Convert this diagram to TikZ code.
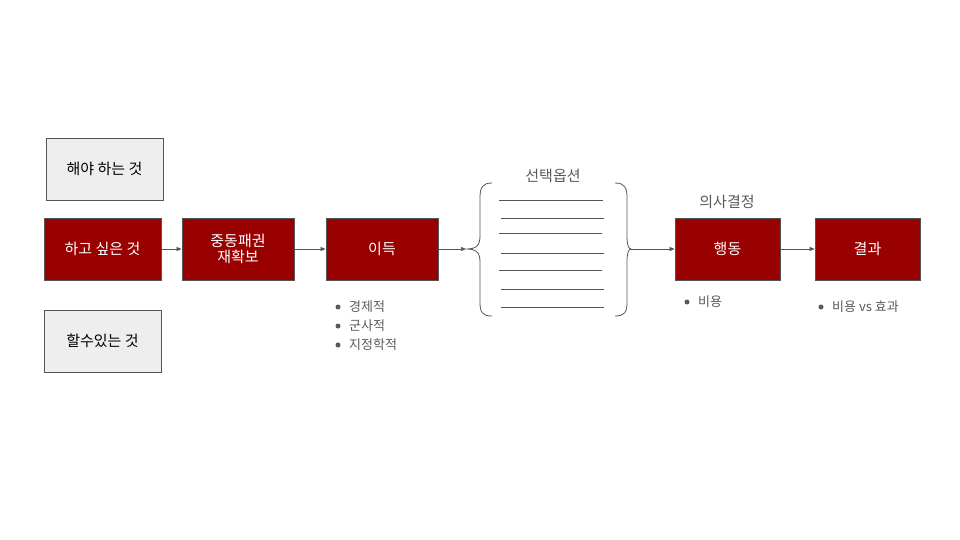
\documentclass[tikz,border=0pt]{standalone}
\usepackage{fontspec}
\setmainfont{Noto Sans CJK KR}
\usetikzlibrary{arrows.meta}
\definecolor{dred}{HTML}{990000}
\definecolor{lgray}{HTML}{EEEEEE}
\definecolor{bord}{HTML}{555555}
\definecolor{tgray}{HTML}{595959}
\begin{document}
\begin{tikzpicture}[x=1pt,y=-1pt,
  redbox/.style={draw=bord,fill=dred,text=white,font=\fontsize{15}{18}\selectfont,align=center,line width=0.8pt,inner sep=0pt},
  graybox/.style={draw=bord,fill=lgray,text=black,font=\fontsize{15}{18}\selectfont,align=center,line width=0.8pt,inner sep=0pt},
  conn/.style={draw=bord,line width=0.7pt,-{Triangle[length=5pt,width=4pt]}},
  bul/.style={text=tgray,font=\fontsize{13}{15}\selectfont,anchor=west,inner sep=0pt},
  dotb/.style={circle,fill=tgray,inner sep=0pt,minimum size=5pt},
  brace/.style={draw=bord,line width=0.8pt},
  optline/.style={draw=bord,line width=0.7pt}]
\useasboundingbox (0,0) rectangle (960,540);
\node[graybox,minimum width=117pt,minimum height=62pt] (must) at (104.5,169) {해야 하는 것};
\node[redbox,minimum width=117pt,minimum height=62pt] (want) at (102.5,249) {하고 싶은 것};
\node[graybox,minimum width=117pt,minimum height=62pt] (can) at (102.5,341) {할수있는 것};
\node[redbox,minimum width=112pt,minimum height=62pt] (mid) at (238,249) {중동패권\\[-2pt]재확보};
\node[redbox,minimum width=112pt,minimum height=62pt] (gain) at (382,249) {이득};
\node[redbox,minimum width=105pt,minimum height=62pt] (act) at (727.5,249) {행동};
\node[redbox,minimum width=105pt,minimum height=62pt] (res) at (867.5,249) {결과};
\coordinate (lb) at (466,249);
\coordinate (rb) at (631,249);
\draw[brace] (492,183) .. controls (482,183) and (480,188) .. (480,198) -- (480,236) .. controls (480,246) and (476,249) .. (lb)
  .. controls (476,249) and (480,252) .. (480,262) -- (480,302) .. controls (480,312) and (482,316) .. (492,316);
\draw[brace] (615,183) .. controls (625,183) and (627,188) .. (627,198) -- (627,236) .. controls (627,246) and (629,249) .. (rb)
  .. controls (629,249) and (627,252) .. (627,262) -- (627,302) .. controls (627,312) and (625,316) .. (615,316);
\foreach \y/\a/\b in {200/499/603,218/501/604,233/499/602,253/501/604,270/499/602,289/501/604,307/501/604}
  \draw[optline] (\a,\y) -- (\b,\y);
\node[text=tgray,font=\fontsize{15}{18}\selectfont] (opt) at (553,176) {선택옵션};
\node[text=tgray,font=\fontsize{15}{18}\selectfont] (dec) at (727,202) {의사결정};
\draw[conn] (want) -- (mid);
\draw[conn] (mid) -- (gain);
\draw[conn] (gain) -- (lb);
\draw[conn] (rb) -- (act);
\draw[conn] (act) -- (res);
\foreach \y/\t [count=\i] in {307/경제적,326/군사적,345/지정학적}{
  \node[dotb] (d\i) at (338,\y) {};
  \node[bul] (b\i) at (349,\y) {\t};}
\node[dotb] (d4) at (687,302) {};
\node[bul] (b4) at (698,302) {비용};
\node[dotb] (d5) at (821,307) {};
\node[bul] (b5) at (832,307) {비용 vs 효과};
\end{tikzpicture}
\end{document}
